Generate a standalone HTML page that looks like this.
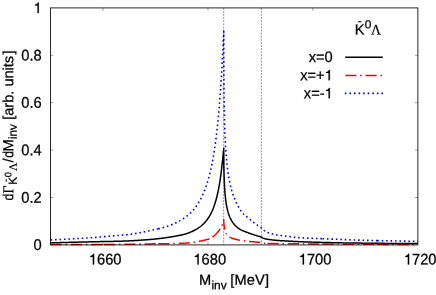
<!DOCTYPE html>
<html><head><meta charset="utf-8"><title>plot</title>
<style>
html,body{margin:0;padding:0;background:#fff;}
body{width:436px;height:295px;overflow:hidden;}
svg{display:block;will-change:transform;}
text{font-family:"Liberation Sans",sans-serif;font-size:14.67px;fill:#000;stroke:#000;stroke-width:0.25px;}
.sym{font-family:"Liberation Serif",serif;}
</style></head><body>
<svg width="436" height="295" viewBox="0 0 436 295">
<rect width="436" height="295" fill="#fff"/>
<g stroke="#747474" stroke-width="0.8" stroke-dasharray="1.9 1.2" fill="none">
<line x1="223.7" y1="7.9" x2="223.7" y2="244.9"/>
<line x1="261.35" y1="7.9" x2="261.35" y2="244.9"/>
</g>
<path d="M50.60,242.90 L51.10,242.88 L51.60,242.87 L52.10,242.85 L52.60,242.84 L53.10,242.82 L53.60,242.81 L54.10,242.79 L54.60,242.78 L55.10,242.76 L55.60,242.75 L56.10,242.74 L56.60,242.72 L57.10,242.71 L57.60,242.69 L58.10,242.68 L58.60,242.66 L59.10,242.65 L59.60,242.63 L60.10,242.62 L60.60,242.61 L61.10,242.59 L61.60,242.58 L62.10,242.56 L62.60,242.55 L63.10,242.53 L63.60,242.52 L64.10,242.51 L64.60,242.49 L65.10,242.48 L65.60,242.47 L66.10,242.45 L66.60,242.44 L67.10,242.42 L67.60,242.41 L68.10,242.40 L68.60,242.38 L69.10,242.37 L69.60,242.36 L70.10,242.34 L70.60,242.33 L71.10,242.32 L71.60,242.30 L72.10,242.29 L72.60,242.28 L73.10,242.26 L73.60,242.25 L74.10,242.24 L74.60,242.23 L75.10,242.21 L75.60,242.20 L76.10,242.19 L76.60,242.17 L77.10,242.16 L77.60,242.15 L78.10,242.14 L78.60,242.12 L79.10,242.11 L79.60,242.10 L80.10,242.09 L80.60,242.07 L81.10,242.06 L81.60,242.05 L82.10,242.04 L82.60,242.02 L83.10,242.01 L83.60,242.00 L84.10,241.99 L84.60,241.98 L85.10,241.96 L85.60,241.95 L86.10,241.94 L86.60,241.93 L87.10,241.92 L87.60,241.90 L88.10,241.89 L88.60,241.88 L89.10,241.87 L89.60,241.86 L90.10,241.85 L90.60,241.83 L91.10,241.82 L91.60,241.81 L92.10,241.80 L92.60,241.79 L93.10,241.78 L93.60,241.76 L94.10,241.75 L94.60,241.74 L95.10,241.73 L95.60,241.72 L96.10,241.71 L96.60,241.70 L97.10,241.69 L97.60,241.67 L98.10,241.66 L98.60,241.65 L99.10,241.64 L99.60,241.63 L100.10,241.62 L100.60,241.61 L101.10,241.60 L101.60,241.59 L102.10,241.58 L102.60,241.57 L103.10,241.56 L103.60,241.55 L104.10,241.54 L104.60,241.53 L105.10,241.52 L105.60,241.51 L106.10,241.50 L106.60,241.50 L107.10,241.49 L107.60,241.48 L108.10,241.47 L108.60,241.46 L109.10,241.45 L109.60,241.45 L110.10,241.44 L110.60,241.43 L111.10,241.42 L111.60,241.41 L112.10,241.40 L112.60,241.39 L113.10,241.38 L113.60,241.37 L114.10,241.36 L114.60,241.35 L115.10,241.34 L115.60,241.33 L116.10,241.32 L116.60,241.31 L117.10,241.30 L117.60,241.29 L118.10,241.27 L118.60,241.26 L119.10,241.25 L119.60,241.23 L120.10,241.22 L120.60,241.20 L121.10,241.19 L121.60,241.17 L122.10,241.15 L122.60,241.14 L123.10,241.12 L123.60,241.10 L124.10,241.08 L124.60,241.06 L125.10,241.04 L125.60,241.02 L126.10,241.00 L126.60,240.98 L127.10,240.95 L127.60,240.93 L128.10,240.91 L128.60,240.88 L129.10,240.86 L129.60,240.84 L130.10,240.81 L130.60,240.79 L131.10,240.76 L131.60,240.73 L132.10,240.71 L132.60,240.68 L133.10,240.65 L133.60,240.62 L134.10,240.59 L134.60,240.57 L135.10,240.54 L135.60,240.51 L136.10,240.48 L136.60,240.45 L137.10,240.42 L137.60,240.38 L138.10,240.35 L138.60,240.32 L139.10,240.29 L139.60,240.25 L140.10,240.22 L140.60,240.19 L141.10,240.15 L141.60,240.12 L142.10,240.09 L142.60,240.05 L143.10,240.02 L143.60,239.98 L144.10,239.94 L144.60,239.91 L145.10,239.87 L145.60,239.84 L146.10,239.80 L146.60,239.76 L147.10,239.72 L147.60,239.69 L148.10,239.65 L148.60,239.61 L149.10,239.57 L149.60,239.53 L150.10,239.49 L150.60,239.45 L151.10,239.41 L151.60,239.37 L152.10,239.32 L152.60,239.28 L153.10,239.23 L153.60,239.18 L154.10,239.13 L154.60,239.08 L155.10,239.03 L155.60,238.98 L156.10,238.92 L156.60,238.87 L157.10,238.81 L157.60,238.75 L158.10,238.70 L158.60,238.64 L159.10,238.58 L159.60,238.52 L160.10,238.46 L160.60,238.39 L161.10,238.33 L161.60,238.27 L162.10,238.20 L162.60,238.14 L163.10,238.07 L163.60,238.00 L164.10,237.94 L164.60,237.87 L165.10,237.80 L165.60,237.73 L166.10,237.67 L166.60,237.60 L167.10,237.53 L167.60,237.46 L168.10,237.39 L168.60,237.31 L169.10,237.24 L169.60,237.16 L170.10,237.09 L170.60,237.01 L171.10,236.93 L171.60,236.84 L172.10,236.76 L172.60,236.67 L173.10,236.59 L173.60,236.50 L174.10,236.41 L174.60,236.31 L175.10,236.22 L175.60,236.12 L176.10,236.03 L176.60,235.93 L177.10,235.84 L177.60,235.74 L178.10,235.65 L178.60,235.55 L179.10,235.45 L179.60,235.35 L180.10,235.25 L180.60,235.15 L181.10,235.04 L181.60,234.94 L182.10,234.83 L182.60,234.72 L183.10,234.60 L183.60,234.48 L184.10,234.36 L184.60,234.22 L185.10,234.09 L185.60,233.94 L186.10,233.80 L186.60,233.64 L187.10,233.48 L187.60,233.31 L188.10,233.13 L188.60,232.95 L189.10,232.75 L189.60,232.55 L190.10,232.34 L190.60,232.12 L191.10,231.90 L191.60,231.68 L192.10,231.45 L192.60,231.22 L193.10,230.98 L193.60,230.74 L194.10,230.49 L194.60,230.23 L195.10,229.97 L195.60,229.69 L196.10,229.41 L196.60,229.12 L197.10,228.81 L197.60,228.50 L198.10,228.18 L198.60,227.84 L199.10,227.49 L199.60,227.14 L200.10,226.76 L200.60,226.38 L201.10,225.98 L201.60,225.56 L202.10,225.13 L202.60,224.68 L203.10,224.21 L203.60,223.73 L204.10,223.22 L204.60,222.69 L205.10,222.14 L205.60,221.57 L206.10,220.97 L206.60,220.35 L207.10,219.69 L207.60,219.01 L208.10,218.29 L208.60,217.54 L209.10,216.75 L209.60,215.92 L210.10,215.04 L210.60,214.13 L211.10,213.16 L211.60,212.14 L212.10,211.06 L212.60,209.91 L213.10,208.71 L213.60,207.42 L214.10,206.06 L214.60,204.62 L215.10,203.08 L215.60,201.43 L216.10,199.68 L216.60,197.81 L217.10,195.80 L217.60,193.64 L218.10,191.32 L218.60,188.83 L219.10,186.14 L219.60,183.23 L220.10,180.09 L220.55,177.04 L220.75,175.62 L220.85,174.88 L220.95,174.14 L221.05,173.41 L221.14,172.67 L221.24,171.94 L221.33,171.21 L221.42,170.49 L221.51,169.77 L221.60,169.05 L221.68,168.34 L221.76,167.63 L221.85,166.92 L221.93,166.23 L222.00,165.54 L222.08,164.85 L222.16,164.18 L222.23,163.51 L222.30,162.85 L222.37,162.20 L222.44,161.56 L222.51,160.93 L222.57,160.31 L222.63,159.70 L222.69,159.10 L222.75,158.52 L222.81,157.94 L222.87,157.38 L222.92,156.84 L222.97,156.31 L223.03,155.79 L223.07,155.28 L223.12,154.80 L223.17,154.32 L223.21,153.87 L223.25,153.43 L223.29,153.00 L223.33,152.59 L223.37,152.20 L223.41,151.83 L223.44,151.48 L223.47,151.14 L223.50,150.82 L223.53,150.52 L223.56,150.23 L223.58,149.97 L223.60,149.72 L223.63,149.49 L223.65,149.29 L223.66,149.09 L223.68,148.92 L223.69,148.77 L223.71,148.63 L223.72,148.52 L223.73,148.42 L223.74,148.34 L223.74,148.28 L223.75,148.23 L223.75,148.21 L223.75,148.20 L223.75,149.85 L223.75,151.46 L223.76,153.05 L223.76,154.61 L223.77,156.15 L223.78,157.65 L223.79,159.12 L223.81,160.57 L223.82,161.99 L223.84,163.39 L223.85,164.75 L223.87,166.09 L223.90,167.41 L223.92,168.70 L223.94,169.96 L223.97,171.20 L224.00,172.41 L224.03,173.60 L224.06,174.77 L224.09,175.91 L224.13,177.03 L224.17,178.13 L224.21,179.21 L224.25,180.26 L224.29,181.29 L224.33,182.31 L224.38,183.30 L224.43,184.27 L224.47,185.23 L224.53,186.16 L224.58,187.08 L224.63,187.97 L224.69,188.85 L224.75,189.71 L224.81,190.56 L224.87,191.39 L224.93,192.20 L224.99,193.00 L225.06,193.78 L225.13,194.54 L225.20,195.29 L225.27,196.02 L225.34,196.75 L225.42,197.45 L225.50,198.15 L225.57,198.82 L225.65,199.49 L225.74,200.14 L225.82,200.79 L225.90,201.41 L225.99,202.03 L226.08,202.64 L226.17,203.23 L226.26,203.81 L226.36,204.38 L226.45,204.95 L226.55,205.50 L226.65,206.04 L226.75,206.57 L226.95,207.56 L227.35,209.37 L227.75,210.98 L228.15,212.41 L228.55,213.71 L228.95,214.88 L229.35,215.96 L229.75,216.94 L230.15,217.85 L230.55,218.70 L230.95,219.48 L231.35,220.21 L231.75,220.90 L232.15,221.54 L232.55,222.15 L232.95,222.72 L233.35,223.26 L233.75,223.77 L234.15,224.25 L234.55,224.71 L234.95,225.15 L235.35,225.57 L235.75,225.97 L236.15,226.35 L236.55,226.72 L236.95,227.08 L237.35,227.42 L237.75,227.75 L238.15,228.06 L238.55,228.37 L238.95,228.65 L239.35,228.92 L239.75,229.18 L240.15,229.42 L240.55,229.65 L240.95,229.87 L241.35,230.07 L241.75,230.26 L242.15,230.43 L242.55,230.60 L242.95,230.77 L243.35,230.93 L243.75,231.08 L244.15,231.24 L244.55,231.40 L244.95,231.56 L245.35,231.71 L245.75,231.87 L246.15,232.03 L246.55,232.18 L246.95,232.34 L247.35,232.49 L247.75,232.65 L248.15,232.80 L248.55,232.96 L248.95,233.11 L249.35,233.25 L249.75,233.40 L250.15,233.54 L250.55,233.68 L250.95,233.82 L251.35,233.96 L251.75,234.10 L252.15,234.23 L252.55,234.37 L252.95,234.50 L253.35,234.63 L253.75,234.76 L254.15,234.89 L254.55,235.01 L254.95,235.14 L255.35,235.27 L255.75,235.39 L256.15,235.51 L256.55,235.63 L256.95,235.76 L257.35,235.88 L257.75,236.00 L258.15,236.12 L258.55,236.24 L258.95,236.36 L259.35,236.47 L259.75,236.59 L260.15,236.71 L260.55,236.82 L260.95,236.94 L261.35,237.05 L261.35,237.05 L261.85,237.37 L262.35,237.68 L262.85,237.96 L263.35,238.21 L263.85,238.42 L264.35,238.57 L264.85,238.71 L265.35,238.84 L265.85,238.95 L266.35,239.05 L266.85,239.15 L267.35,239.23 L267.85,239.32 L268.35,239.40 L268.85,239.48 L269.35,239.55 L269.85,239.63 L270.35,239.70 L270.85,239.76 L271.35,239.82 L271.85,239.88 L272.35,239.94 L272.85,240.00 L273.35,240.05 L273.85,240.11 L274.35,240.16 L274.85,240.21 L275.35,240.26 L275.85,240.30 L276.35,240.35 L276.85,240.39 L277.35,240.43 L277.85,240.47 L278.35,240.50 L278.85,240.54 L279.35,240.57 L279.85,240.60 L280.35,240.64 L280.85,240.67 L281.35,240.70 L281.85,240.73 L282.35,240.76 L282.85,240.79 L283.35,240.82 L283.85,240.84 L284.35,240.87 L284.85,240.90 L285.35,240.93 L285.85,240.96 L286.35,240.99 L286.85,241.01 L287.35,241.04 L287.85,241.07 L288.35,241.10 L288.85,241.13 L289.35,241.16 L289.85,241.18 L290.35,241.21 L290.85,241.24 L291.35,241.27 L291.85,241.30 L292.35,241.32 L292.85,241.35 L293.35,241.38 L293.85,241.40 L294.35,241.43 L294.85,241.46 L295.35,241.48 L295.85,241.51 L296.35,241.53 L296.85,241.56 L297.35,241.58 L297.85,241.60 L298.35,241.63 L298.85,241.65 L299.35,241.67 L299.85,241.69 L300.35,241.71 L300.85,241.74 L301.35,241.76 L301.85,241.78 L302.35,241.80 L302.85,241.82 L303.35,241.84 L303.85,241.86 L304.35,241.88 L304.85,241.90 L305.35,241.92 L305.85,241.93 L306.35,241.95 L306.85,241.97 L307.35,241.99 L307.85,242.01 L308.35,242.02 L308.85,242.04 L309.35,242.06 L309.85,242.07 L310.35,242.09 L310.85,242.11 L311.35,242.12 L311.85,242.14 L312.35,242.15 L312.85,242.17 L313.35,242.18 L313.85,242.20 L314.35,242.21 L314.85,242.22 L315.35,242.24 L315.85,242.25 L316.35,242.26 L316.85,242.28 L317.35,242.29 L317.85,242.30 L318.35,242.32 L318.85,242.33 L319.35,242.34 L319.85,242.36 L320.35,242.37 L320.85,242.38 L321.35,242.40 L321.85,242.41 L322.35,242.42 L322.85,242.43 L323.35,242.45 L323.85,242.46 L324.35,242.47 L324.85,242.48 L325.35,242.50 L325.85,242.51 L326.35,242.52 L326.85,242.53 L327.35,242.54 L327.85,242.56 L328.35,242.57 L328.85,242.58 L329.35,242.59 L329.85,242.60 L330.35,242.61 L330.85,242.62 L331.35,242.64 L331.85,242.65 L332.35,242.66 L332.85,242.67 L333.35,242.68 L333.85,242.69 L334.35,242.70 L334.85,242.71 L335.35,242.72 L335.85,242.73 L336.35,242.74 L336.85,242.75 L337.35,242.76 L337.85,242.77 L338.35,242.78 L338.85,242.79 L339.35,242.80 L339.85,242.81 L340.35,242.82 L340.85,242.83 L341.35,242.84 L341.85,242.85 L342.35,242.86 L342.85,242.87 L343.35,242.88 L343.85,242.89 L344.35,242.89 L344.85,242.90 L345.35,242.91 L345.85,242.92 L346.35,242.93 L346.85,242.94 L347.35,242.94 L347.85,242.95 L348.35,242.96 L348.85,242.97 L349.35,242.97 L349.85,242.98 L350.35,242.99 L350.85,243.00 L351.35,243.00 L351.85,243.01 L352.35,243.02 L352.85,243.02 L353.35,243.03 L353.85,243.04 L354.35,243.04 L354.85,243.05 L355.35,243.05 L355.85,243.06 L356.35,243.07 L356.85,243.07 L357.35,243.08 L357.85,243.08 L358.35,243.09 L358.85,243.10 L359.35,243.10 L359.85,243.11 L360.35,243.11 L360.85,243.12 L361.35,243.13 L361.85,243.13 L362.35,243.14 L362.85,243.14 L363.35,243.15 L363.85,243.15 L364.35,243.16 L364.85,243.17 L365.35,243.17 L365.85,243.18 L366.35,243.18 L366.85,243.19 L367.35,243.19 L367.85,243.20 L368.35,243.21 L368.85,243.21 L369.35,243.22 L369.85,243.22 L370.35,243.23 L370.85,243.23 L371.35,243.24 L371.85,243.24 L372.35,243.25 L372.85,243.26 L373.35,243.26 L373.85,243.27 L374.35,243.27 L374.85,243.28 L375.35,243.28 L375.85,243.29 L376.35,243.29 L376.85,243.30 L377.35,243.30 L377.85,243.31 L378.35,243.31 L378.85,243.32 L379.35,243.32 L379.85,243.33 L380.35,243.33 L380.85,243.34 L381.35,243.34 L381.85,243.35 L382.35,243.35 L382.85,243.36 L383.35,243.36 L383.85,243.37 L384.35,243.37 L384.85,243.38 L385.35,243.38 L385.85,243.39 L386.35,243.39 L386.85,243.40 L387.35,243.40 L387.85,243.40 L388.35,243.41 L388.85,243.41 L389.35,243.42 L389.85,243.42 L390.35,243.42 L390.85,243.43 L391.35,243.43 L391.85,243.44 L392.35,243.44 L392.85,243.44 L393.35,243.45 L393.85,243.45 L394.35,243.46 L394.85,243.46 L395.35,243.46 L395.85,243.47 L396.35,243.47 L396.85,243.47 L397.35,243.48 L397.85,243.48 L398.35,243.48 L398.85,243.49 L399.35,243.49 L399.85,243.49 L400.35,243.49 L400.85,243.50 L401.35,243.50 L401.85,243.50 L402.35,243.51 L402.85,243.51 L403.35,243.51 L403.85,243.51 L404.35,243.52 L404.85,243.52 L405.35,243.52 L405.85,243.52 L406.35,243.52 L406.85,243.53 L407.35,243.53 L407.85,243.53 L408.35,243.53 L408.85,243.53 L409.35,243.54 L409.85,243.54 L410.35,243.54 L410.85,243.54 L411.35,243.54 L411.85,243.54 L412.35,243.54 L412.85,243.54 L413.35,243.55 L413.85,243.55 L414.35,243.55 L414.85,243.55 L415.35,243.55 L415.85,243.55 L416.35,243.55 L416.85,243.55 L417.35,243.55 L417.85,243.55" fill="none" stroke="#000" stroke-width="1.5" stroke-linejoin="round"/>
<path d="M50.60,244.60 L51.10,244.60 L51.60,244.60 L52.10,244.60 L52.61,244.60 L53.11,244.60 L53.61,244.60 L54.11,244.60 L54.61,244.60 L55.11,244.60 L55.62,244.60 L56.12,244.60 L56.62,244.60 L57.12,244.60 L57.62,244.60 L58.12,244.60 L58.63,244.60 L59.13,244.60 L59.63,244.59 L60.13,244.59 L60.63,244.59 L61.13,244.59 L61.64,244.59 L62.14,244.59 L62.64,244.59 L63.14,244.59 L63.64,244.59 L64.14,244.59 L64.65,244.59 L65.15,244.59 L65.65,244.59 L66.15,244.58 L66.65,244.58 L67.15,244.58 L67.65,244.58 L68.16,244.58 L68.66,244.58 L69.16,244.58 L69.66,244.58 L70.16,244.58 L70.66,244.57 L71.17,244.57 L71.67,244.57 L72.17,244.57 L72.67,244.57 L73.17,244.57 L73.67,244.57 L74.18,244.56 L74.68,244.56 L75.18,244.56 L75.68,244.56 L76.18,244.56 L76.68,244.56 L77.19,244.56 L77.69,244.55 L78.19,244.55 L78.69,244.55 L79.19,244.55 L79.69,244.55 L80.19,244.55 L80.70,244.54 L81.20,244.54 L81.70,244.54 L82.20,244.54 L82.70,244.54 L83.20,244.54 L83.71,244.53 L84.21,244.53 L84.71,244.53 L85.21,244.53 L85.71,244.53 L86.21,244.52 L86.72,244.52 L87.22,244.52 L87.72,244.52 L88.22,244.52 L88.72,244.51 L89.22,244.51 L89.72,244.51 L90.23,244.51 L90.73,244.50 L91.23,244.50 L91.73,244.50 L92.23,244.50 L92.73,244.50 L93.24,244.49 L93.74,244.49 L94.24,244.49 L94.74,244.49 L95.24,244.48 L95.74,244.48 L96.25,244.48 L96.75,244.48 L97.25,244.47 L97.75,244.47 L98.25,244.47 L98.75,244.47 L99.25,244.46 L99.76,244.46 L100.26,244.46 L100.76,244.46 L101.26,244.45 L101.76,244.45 L102.26,244.45 L102.77,244.45 L103.27,244.44 L103.77,244.44 L104.00,244.44 M104.00,244.44 L104.27,244.44 L104.77,244.43 L105.27,244.43 L105.78,244.43 L106.28,244.43 L106.78,244.42 L107.28,244.42 L107.78,244.42 L108.28,244.41 L108.78,244.41 L109.29,244.41 L109.79,244.41 L110.29,244.40 L110.79,244.40 L111.29,244.40 L111.79,244.39 L112.30,244.39 L112.80,244.39 L113.30,244.39 L113.80,244.38 L114.30,244.38 L114.80,244.38 L115.31,244.37 L115.81,244.37 L116.31,244.37 L116.81,244.36 L117.31,244.36 L117.81,244.36 L118.31,244.35 L118.82,244.35 L119.32,244.35 L119.82,244.34 L120.32,244.34 L120.82,244.34 L121.32,244.33 L121.83,244.33 L122.33,244.32 L122.83,244.32 L123.33,244.31 L123.83,244.31 L124.33,244.30 L124.83,244.30 L125.34,244.29 L125.84,244.29 L126.34,244.28 L126.84,244.27 L127.34,244.27 L127.84,244.26 L128.35,244.25 L128.85,244.25 L129.35,244.24 L129.85,244.23 L130.35,244.22 L130.85,244.22 L131.35,244.21 L131.86,244.20 L132.36,244.19 L132.86,244.19 L133.36,244.18 L133.86,244.17 L134.36,244.16 L134.87,244.15 L135.37,244.15 L135.87,244.14 L136.37,244.13 L136.87,244.12 L137.37,244.11 L137.87,244.10 L138.38,244.09 L138.88,244.09 L139.38,244.08 L139.88,244.07 L140.38,244.06 L140.88,244.05 L141.39,244.04 L141.89,244.03 L142.39,244.03 L142.89,244.02 L143.39,244.01 L143.89,244.00 L144.39,243.99 L144.90,243.98 L145.40,243.97 L145.90,243.97 L146.40,243.96 L146.90,243.95 L147.40,243.94 L147.91,243.93 L148.41,243.92 L148.91,243.92 L149.41,243.91 L149.91,243.90 L150.41,243.89 L150.91,243.89 L151.42,243.88 L151.92,243.87 L152.42,243.86 L152.92,243.86 L153.42,243.85 L153.92,243.84 L154.43,243.84 L154.93,243.83 L155.43,243.82 L155.93,243.82 L156.43,243.81 L156.93,243.80 L157.44,243.80 L157.94,243.79 L158.30,243.78 M158.30,243.78 L158.44,243.78 L158.94,243.77 L159.44,243.77 L159.94,243.76 L160.44,243.75 L160.95,243.75 L161.45,243.74 L161.95,243.73 L162.45,243.73 L162.95,243.72 L163.45,243.71 L163.96,243.70 L164.46,243.70 L164.96,243.69 L165.46,243.68 L165.96,243.67 L166.46,243.67 L166.96,243.66 L167.47,243.65 L167.97,243.64 L168.47,243.63 L168.97,243.62 L169.47,243.61 L169.97,243.60 L170.48,243.60 L170.98,243.59 L171.48,243.58 L171.98,243.57 L172.48,243.56 L172.98,243.55 L173.48,243.53 L173.99,243.52 L174.49,243.51 L174.99,243.50 L175.49,243.49 L175.99,243.48 L176.49,243.46 L176.99,243.45 L177.50,243.44 L178.00,243.42 L178.50,243.41 L179.00,243.39 L179.50,243.38 L180.01,243.36 L180.51,243.34 L181.01,243.33 L181.51,243.31 L182.01,243.29 L182.51,243.27 L183.01,243.25 L183.52,243.23 L184.02,243.20 L184.52,243.18 L185.02,243.15 L185.52,243.13 L186.02,243.10 L186.51,243.07 L187.01,243.03 L187.51,243.00 L188.01,242.96 L188.51,242.91 L189.01,242.86 L189.51,242.81 L190.01,242.76 L190.51,242.70 L191.01,242.64 L191.51,242.58 L192.00,242.51 L192.50,242.44 L193.00,242.37 L193.50,242.30 L194.00,242.22 L194.49,242.15 L194.99,242.07 L195.49,241.99 L195.98,241.90 L196.48,241.82 L196.97,241.74 L197.47,241.65 L197.96,241.56 L198.46,241.47 L198.95,241.39 L199.44,241.30 L199.93,241.20 L200.43,241.11 L200.92,241.02 L201.41,240.91 L201.89,240.80 L202.38,240.68 L202.87,240.56 L203.36,240.43 L203.84,240.30 L204.33,240.17 L204.81,240.05 L205.30,239.93 L205.79,239.81 L206.28,239.69 L206.78,239.58 L207.27,239.46 L207.76,239.34 L208.24,239.21 L208.72,239.07 L209.19,238.91 L209.65,238.74 L210.11,238.55 L210.56,238.32 L211.01,238.08 L211.45,237.82 L211.88,237.55 L212.30,237.26 L212.50,237.12 M212.50,237.12 L212.70,236.98 L213.08,236.68 L213.47,236.38 L213.85,236.07 L214.22,235.74 L214.60,235.41 L214.97,235.07 L215.34,234.72 L215.70,234.36 L216.06,234.00 L216.41,233.63 L216.76,233.25 L217.10,232.87 L217.44,232.48 L217.77,232.08 L218.10,231.69 L218.41,231.28 L218.72,230.88 L219.03,230.47 L219.32,230.06 L219.61,229.64 L219.89,229.23 L220.16,228.81 L220.42,228.39 L220.67,227.98 L220.92,227.55 L221.16,227.11 L221.38,226.66 L221.61,226.21 L221.82,225.74 L222.02,225.28 L222.21,224.81 L222.38,224.34 L222.55,223.87 L222.70,223.39 L222.85,222.92 L223.00,222.44 L223.14,221.96 L223.27,221.47 L223.39,220.98 L223.50,220.49 L223.61,220.00 L223.70,219.50 L223.70,220.02 L223.71,220.53 L223.73,221.05 L223.75,221.56 L223.78,222.07 L223.81,222.57 L223.85,223.08 L223.89,223.58 L223.94,224.08 L223.99,224.58 L224.05,225.08 L224.11,225.58 L224.17,226.07 L224.24,226.56 L224.31,227.06 L224.38,227.54 L224.46,228.03 L224.54,228.52 L224.62,229.00 L224.70,229.49 L224.79,229.98 L224.91,230.47 L225.05,230.97 L225.20,231.46 L225.38,231.95 L225.57,232.43 L225.77,232.90 L225.99,233.35 L226.21,233.78 L226.45,234.18 L226.72,234.58 L227.03,234.97 L227.38,235.36 L227.75,235.74 L228.14,236.09 L228.55,236.42 L228.97,236.72 L229.38,236.98 L229.79,237.20 L230.21,237.41 L230.64,237.60 L231.08,237.80 L231.53,237.98 L231.99,238.16 L232.46,238.33 L232.93,238.49 L233.41,238.65 L233.90,238.80 L234.39,238.95 L234.89,239.09 L235.39,239.22 L235.89,239.35 L236.40,239.48 L236.90,239.60 L237.41,239.71 L237.91,239.82 L238.42,239.92 L238.92,240.02 L239.42,240.12 L239.92,240.21 L240.41,240.30 L240.90,240.39 L241.40,240.46 L241.89,240.53 L242.39,240.60 L242.89,240.67 L243.39,240.73 L243.89,240.79 L244.39,240.85 L244.89,240.91 L245.38,240.97 L245.88,241.03 L246.38,241.09 L246.88,241.15 L247.38,241.21 L247.88,241.27 L248.37,241.33 L248.87,241.38 L249.37,241.43 L249.87,241.49 L250.37,241.54 L250.87,241.59 L251.37,241.63 L251.87,241.67 L252.37,241.71 L252.87,241.75 L253.38,241.79 L253.88,241.83 L254.38,241.87 L254.88,241.91 L255.38,241.94 L255.88,241.98 L256.39,242.02 L256.89,242.06 L257.39,242.10 L257.89,242.15 L258.39,242.20 L258.88,242.25 L259.38,242.30 L259.88,242.36 L260.37,242.42 L260.87,242.48 L261.36,242.56 L261.85,242.67 L262.34,242.81 L262.83,242.95 L263.32,243.09 L263.80,243.22 L264.29,243.32 L264.79,243.39 L265.28,243.41 L265.78,243.43 L266.27,243.44 L266.77,243.46 L267.27,243.47 L267.50,243.48 M267.50,243.48 L267.77,243.49 L268.27,243.50 L268.77,243.51 L269.27,243.52 L269.77,243.53 L270.27,243.54 L270.77,243.55 L271.27,243.56 L271.78,243.57 L272.28,243.57 L272.78,243.58 L273.29,243.58 L273.79,243.59 L274.30,243.60 L274.80,243.60 L275.31,243.61 L275.81,243.61 L276.31,243.62 L276.82,243.62 L277.32,243.62 L277.82,243.63 L278.33,243.63 L278.83,243.64 L279.33,243.64 L279.84,243.65 L280.34,243.65 L280.84,243.66 L281.34,243.66 L281.84,243.67 L282.35,243.67 L282.85,243.68 L283.35,243.68 L283.85,243.69 L284.35,243.69 L284.85,243.69 L285.36,243.70 L285.86,243.70 L286.36,243.71 L286.86,243.71 L287.36,243.71 L287.87,243.72 L288.37,243.72 L288.87,243.72 L289.37,243.73 L289.87,243.73 L290.38,243.73 L290.88,243.74 L291.38,243.74 L291.88,243.74 L292.38,243.75 L292.88,243.75 L293.39,243.75 L293.89,243.76 L294.39,243.76 L294.89,243.76 L295.39,243.77 L295.90,243.77 L296.40,243.77 L296.90,243.78 L297.40,243.78 L297.90,243.78 L298.41,243.79 L298.91,243.79 L299.41,243.80 L299.91,243.80 L300.41,243.80 L300.91,243.81 L301.42,243.81 L301.92,243.81 L302.42,243.82 L302.92,243.82 L303.42,243.83 L303.93,243.83 L304.43,243.84 L304.93,243.84 L305.43,243.84 L305.93,243.85 L306.43,243.85 L306.94,243.86 L307.44,243.86 L307.94,243.86 L308.44,243.87 L308.94,243.87 L309.45,243.88 L309.95,243.88 L310.45,243.89 L310.95,243.89 L311.45,243.89 L311.96,243.90 L312.46,243.90 L312.96,243.91 L313.46,243.91 L313.96,243.92 L314.46,243.92 L314.97,243.92 L315.47,243.93 L315.97,243.93 L316.47,243.94 L316.97,243.94 L317.48,243.95 L317.98,243.95 L318.48,243.96 L318.98,243.96 L319.48,243.96 L319.99,243.97 L320.49,243.97 L320.99,243.98 L321.49,243.98 L321.99,243.99 L322.49,243.99 L322.50,243.99 M322.50,243.99 L323.00,243.99 L323.50,244.00 L324.00,244.00 L324.50,244.01 L325.00,244.01 L325.51,244.02 L326.01,244.02 L326.51,244.03 L327.01,244.03 L327.51,244.03 L328.01,244.04 L328.52,244.04 L329.02,244.05 L329.52,244.05 L330.02,244.05 L330.52,244.06 L331.03,244.06 L331.53,244.07 L332.03,244.07 L332.53,244.08 L333.03,244.08 L333.54,244.08 L334.04,244.09 L334.54,244.09 L335.04,244.10 L335.54,244.10 L336.04,244.10 L336.55,244.11 L337.05,244.11 L337.55,244.12 L338.05,244.12 L338.55,244.12 L339.06,244.13 L339.56,244.13 L340.06,244.13 L340.56,244.14 L341.06,244.14 L341.57,244.15 L342.07,244.15 L342.57,244.15 L343.07,244.16 L343.57,244.16 L344.07,244.16 L344.58,244.17 L345.08,244.17 L345.58,244.17 L346.08,244.18 L346.58,244.18 L347.09,244.18 L347.59,244.19 L348.09,244.19 L348.59,244.19 L349.09,244.19 L349.60,244.20 L350.10,244.20 L350.60,244.20 L351.10,244.21 L351.60,244.21 L352.10,244.21 L352.61,244.21 L353.11,244.22 L353.61,244.22 L354.11,244.22 L354.61,244.23 L355.12,244.23 L355.62,244.23 L356.12,244.23 L356.62,244.24 L357.12,244.24 L357.62,244.24 L358.13,244.25 L358.63,244.25 L359.13,244.25 L359.63,244.25 L360.13,244.26 L360.64,244.26 L361.14,244.26 L361.64,244.27 L362.14,244.27 L362.64,244.27 L363.15,244.27 L363.65,244.28 L364.15,244.28 L364.65,244.28 L365.15,244.28 L365.65,244.29 L366.16,244.29 L366.66,244.29 L367.16,244.30 L367.66,244.30 L368.16,244.30 L368.67,244.30 L369.17,244.31 L369.67,244.31 L370.17,244.31 L370.67,244.31 L371.18,244.32 L371.68,244.32 L372.18,244.32 L372.68,244.32 L373.18,244.33 L373.68,244.33 L374.19,244.33 L374.69,244.33 L375.19,244.34 L375.69,244.34 L376.19,244.34 L376.70,244.34 L377.20,244.35 L377.20,244.35 M377.20,244.35 L377.70,244.35 L378.20,244.35 L378.70,244.35 L379.21,244.36 L379.71,244.36 L380.21,244.36 L380.71,244.36 L381.21,244.37 L381.71,244.37 L382.22,244.37 L382.72,244.37 L383.22,244.38 L383.72,244.38 L384.22,244.38 L384.73,244.38 L385.23,244.38 L385.73,244.39 L386.23,244.39 L386.73,244.39 L387.24,244.39 L387.74,244.40 L388.24,244.40 L388.74,244.40 L389.24,244.40 L389.74,244.40 L390.25,244.41 L390.75,244.41 L391.25,244.41 L391.75,244.41 L392.25,244.42 L392.76,244.42 L393.26,244.42 L393.76,244.42 L394.26,244.42 L394.76,244.43 L395.27,244.43 L395.77,244.43 L396.27,244.43 L396.77,244.43 L397.27,244.44 L397.77,244.44 L398.28,244.44 L398.78,244.44 L399.28,244.44 L399.78,244.44 L400.28,244.45 L400.79,244.45 L401.29,244.45 L401.79,244.45 L402.29,244.45 L402.79,244.46 L403.30,244.46 L403.80,244.46 L404.30,244.46 L404.80,244.46 L405.30,244.46 L405.80,244.47 L406.31,244.47 L406.81,244.47 L407.31,244.47 L407.81,244.47 L408.31,244.47 L408.82,244.48 L409.32,244.48 L409.82,244.48 L410.32,244.48 L410.82,244.48 L411.33,244.48 L411.83,244.48 L412.33,244.49 L412.83,244.49 L413.33,244.49 L413.83,244.49 L414.34,244.49 L414.84,244.49 L415.34,244.49 L415.84,244.50 L416.34,244.50 L416.85,244.50 L417.35,244.50 L417.85,244.50" fill="none" stroke="#f00" stroke-width="1.5" stroke-dasharray="11.2 3.7 1.6 3.8" stroke-linejoin="round"/>
<path d="M50.60,239.90 L51.10,239.88 L51.60,239.86 L52.10,239.84 L52.60,239.81 L53.10,239.79 L53.60,239.77 L54.10,239.75 L54.60,239.73 L55.10,239.70 L55.60,239.68 L56.10,239.66 L56.60,239.63 L57.10,239.61 L57.60,239.59 L58.10,239.56 L58.60,239.54 L59.10,239.52 L59.60,239.49 L60.10,239.47 L60.60,239.45 L61.10,239.42 L61.60,239.40 L62.10,239.37 L62.60,239.35 L63.10,239.32 L63.60,239.30 L64.10,239.27 L64.60,239.25 L65.10,239.22 L65.60,239.20 L66.10,239.17 L66.60,239.15 L67.10,239.12 L67.60,239.09 L68.10,239.07 L68.60,239.04 L69.10,239.02 L69.60,238.99 L70.10,238.96 L70.60,238.94 L71.10,238.91 L71.60,238.88 L72.10,238.86 L72.60,238.83 L73.10,238.80 L73.60,238.78 L74.10,238.75 L74.60,238.72 L75.10,238.69 L75.60,238.67 L76.10,238.64 L76.60,238.61 L77.10,238.58 L77.60,238.56 L78.10,238.53 L78.60,238.50 L79.10,238.47 L79.60,238.45 L80.10,238.42 L80.60,238.39 L81.10,238.36 L81.60,238.33 L82.10,238.30 L82.60,238.27 L83.10,238.24 L83.60,238.21 L84.10,238.18 L84.60,238.15 L85.10,238.12 L85.60,238.09 L86.10,238.06 L86.60,238.03 L87.10,238.00 L87.60,237.97 L88.10,237.93 L88.60,237.90 L89.10,237.87 L89.60,237.83 L90.10,237.80 L90.60,237.76 L91.10,237.73 L91.60,237.69 L92.10,237.66 L92.60,237.62 L93.10,237.58 L93.60,237.54 L94.10,237.50 L94.60,237.46 L95.10,237.41 L95.60,237.37 L96.10,237.33 L96.60,237.28 L97.10,237.24 L97.60,237.19 L98.10,237.15 L98.60,237.11 L99.10,237.06 L99.60,237.02 L100.10,236.98 L100.60,236.93 L101.10,236.89 L101.60,236.85 L102.10,236.81 L102.60,236.77 L103.10,236.73 L103.60,236.69 L104.00,236.65 M104.00,236.65 L104.10,236.65 L104.60,236.61 L105.10,236.57 L105.60,236.53 L106.10,236.49 L106.60,236.45 L107.10,236.41 L107.60,236.37 L108.10,236.33 L108.60,236.29 L109.10,236.25 L109.60,236.21 L110.10,236.17 L110.60,236.13 L111.10,236.09 L111.60,236.05 L112.10,236.01 L112.60,235.97 L113.10,235.93 L113.60,235.88 L114.10,235.84 L114.60,235.80 L115.10,235.76 L115.60,235.72 L116.10,235.67 L116.60,235.63 L117.10,235.59 L117.60,235.54 L118.10,235.50 L118.60,235.46 L119.10,235.41 L119.60,235.37 L120.10,235.32 L120.60,235.28 L121.10,235.24 L121.60,235.19 L122.10,235.15 L122.60,235.10 L123.10,235.05 L123.60,235.01 L124.10,234.96 L124.60,234.91 L125.10,234.86 L125.60,234.81 L126.10,234.76 L126.60,234.70 L127.10,234.65 L127.60,234.59 L128.10,234.53 L128.60,234.47 L129.10,234.40 L129.60,234.34 L130.10,234.27 L130.60,234.21 L131.10,234.14 L131.60,234.07 L132.10,233.99 L132.60,233.92 L133.10,233.85 L133.60,233.77 L134.10,233.69 L134.60,233.61 L135.10,233.53 L135.60,233.45 L136.10,233.37 L136.60,233.29 L137.10,233.20 L137.60,233.12 L138.10,233.03 L138.60,232.95 L139.10,232.86 L139.60,232.77 L140.10,232.68 L140.60,232.59 L141.10,232.50 L141.60,232.40 L142.10,232.30 L142.60,232.21 L143.10,232.10 L143.60,232.00 L144.10,231.89 L144.60,231.79 L145.10,231.68 L145.60,231.57 L146.10,231.46 L146.60,231.35 L147.10,231.24 L147.60,231.13 L148.10,231.02 L148.60,230.91 L149.10,230.80 L149.60,230.69 L150.10,230.58 L150.60,230.47 L151.10,230.36 L151.60,230.25 L152.10,230.15 L152.60,230.04 L153.10,229.93 L153.60,229.83 L154.10,229.72 L154.60,229.61 L155.10,229.51 L155.60,229.40 L156.10,229.29 L156.60,229.18 L157.10,229.07 L157.60,228.95 L158.10,228.84 L158.30,228.79 M158.30,228.79 L158.60,228.72 L159.10,228.60 L159.60,228.48 L160.10,228.36 L160.60,228.23 L161.10,228.10 L161.60,227.97 L162.10,227.84 L162.60,227.70 L163.10,227.56 L163.60,227.42 L164.10,227.27 L164.60,227.12 L165.10,226.97 L165.60,226.82 L166.10,226.66 L166.60,226.50 L167.10,226.34 L167.60,226.17 L168.10,226.00 L168.60,225.83 L169.10,225.66 L169.60,225.48 L170.10,225.29 L170.60,225.11 L171.10,224.92 L171.60,224.72 L172.10,224.52 L172.60,224.32 L173.10,224.12 L173.60,223.90 L174.10,223.69 L174.60,223.47 L175.10,223.25 L175.60,223.02 L176.10,222.78 L176.60,222.53 L177.10,222.28 L177.60,222.02 L178.10,221.75 L178.60,221.47 L179.10,221.19 L179.60,220.90 L180.10,220.61 L180.60,220.31 L181.10,220.00 L181.60,219.70 L182.10,219.39 L182.60,219.07 L183.10,218.75 L183.60,218.43 L184.10,218.10 L184.60,217.77 L185.10,217.43 L185.60,217.08 L186.10,216.72 L186.60,216.36 L187.10,215.98 L187.60,215.60 L188.10,215.20 L188.60,214.78 L189.10,214.35 L189.60,213.90 L190.10,213.43 L190.60,212.94 L191.10,212.44 L191.60,211.92 L192.10,211.38 L192.60,210.83 L193.10,210.26 L193.60,209.67 L194.10,209.06 L194.60,208.43 L195.10,207.78 L195.60,207.12 L196.10,206.43 L196.60,205.72 L197.10,204.99 L197.60,204.24 L198.10,203.46 L198.60,202.66 L199.10,201.82 L199.60,200.96 L200.10,200.07 L200.60,199.15 L201.10,198.19 L201.60,197.20 L202.10,196.17 L202.60,195.11 L203.10,194.00 L203.60,192.85 L204.10,191.65 L204.60,190.40 L205.10,189.11 L205.60,187.76 L206.10,186.35 L206.60,184.88 L207.10,183.35 L207.60,181.75 L208.10,180.08 L208.60,178.33 L209.10,176.50 L209.60,174.57 L210.10,172.56 L210.60,170.44 L211.10,168.22 L211.60,165.88 L212.10,163.42 L212.50,161.34 M212.50,161.34 L212.60,160.82 L213.10,158.08 L213.60,155.18 L214.10,152.12 L214.60,148.87 L215.10,145.44 L215.60,141.79 L216.10,137.91 L216.60,133.78 L217.10,129.38 L217.60,124.68 L218.10,119.67 L218.60,114.31 L219.10,108.56 L219.60,102.40 L220.10,95.79 L220.55,89.43 L220.75,86.46 L220.85,84.94 L220.95,83.42 L221.05,81.90 L221.14,80.39 L221.24,78.89 L221.33,77.39 L221.42,75.90 L221.51,74.43 L221.60,72.96 L221.68,71.51 L221.76,70.07 L221.85,68.64 L221.93,67.23 L222.00,65.83 L222.08,64.45 L222.16,63.08 L222.23,61.74 L222.30,60.41 L222.37,59.11 L222.44,57.82 L222.51,56.56 L222.57,55.32 L222.63,54.10 L222.69,52.91 L222.75,51.74 L222.81,50.60 L222.87,49.49 L222.92,48.41 L222.97,47.35 L223.03,46.32 L223.07,45.33 L223.12,44.36 L223.17,43.43 L223.21,42.53 L223.25,41.66 L223.29,40.82 L223.33,40.02 L223.37,39.25 L223.41,38.52 L223.44,37.82 L223.47,37.16 L223.50,36.53 L223.53,35.94 L223.56,35.38 L223.58,34.86 L223.60,34.38 L223.63,33.93 L223.65,33.52 L223.66,33.15 L223.68,32.81 L223.69,32.51 L223.71,32.25 L223.72,32.02 L223.73,31.83 L223.74,31.68 L223.74,31.55 L223.75,31.47 L223.75,31.42 L223.75,31.40 L223.75,35.97 L223.75,40.38 L223.76,44.64 L223.76,48.75 L223.77,52.72 L223.78,56.56 L223.79,60.27 L223.81,63.86 L223.82,67.33 L223.84,70.69 L223.85,73.96 L223.87,77.12 L223.90,80.18 L223.92,83.15 L223.94,86.04 L223.97,88.84 L224.00,91.56 L224.03,94.21 L224.06,96.78 L224.09,99.28 L224.13,101.71 L224.17,104.08 L224.21,106.38 L224.25,108.63 L224.29,110.81 L224.33,112.94 L224.38,115.02 L224.43,117.04 L224.47,119.02 L224.53,120.94 L224.58,122.82 L224.63,124.66 L224.69,126.45 L224.75,128.20 L224.81,129.91 L224.87,131.58 L224.93,133.21 L224.99,134.81 L225.06,136.37 L225.13,137.89 L225.20,139.39 L225.27,140.85 L225.34,142.28 L225.42,143.68 L225.50,145.06 L225.57,146.40 L225.65,147.72 L225.74,149.01 L225.82,150.27 L225.90,151.51 L225.99,152.73 L226.08,153.92 L226.17,155.09 L226.26,156.24 L226.36,157.36 L226.45,158.47 L226.55,159.55 L226.65,160.62 L226.75,161.67 L226.95,163.64 L227.35,167.22 L227.75,170.41 L228.15,173.27 L228.55,175.87 L228.95,178.24 L229.35,180.42 L229.75,182.43 L230.15,184.30 L230.55,186.05 L230.95,187.68 L231.35,189.21 L231.75,190.65 L232.15,192.01 L232.55,193.30 L232.95,194.53 L233.35,195.69 L233.75,196.80 L234.15,197.85 L234.55,198.86 L234.95,199.83 L235.35,200.76 L235.75,201.65 L236.15,202.50 L236.55,203.33 L236.95,204.12 L237.35,204.88 L237.75,205.61 L238.15,206.32 L238.55,207.02 L238.95,207.71 L239.35,208.40 L239.75,209.07 L240.15,209.70 L240.55,210.29 L240.95,210.86 L241.35,211.41 L241.75,211.93 L242.15,212.43 L242.55,212.90 L242.95,213.35 L243.35,213.79 L243.75,214.20 L244.15,214.59 L244.55,214.97 L244.95,215.33 L245.35,215.67 L245.75,216.01 L246.15,216.34 L246.55,216.66 L246.95,216.98 L247.35,217.30 L247.75,217.62 L248.15,217.95 L248.55,218.28 L248.95,218.61 L249.35,218.94 L249.75,219.28 L250.15,219.63 L250.55,219.97 L250.95,220.31 L251.35,220.65 L251.75,220.97 L252.15,221.30 L252.55,221.62 L252.95,221.94 L253.35,222.25 L253.75,222.56 L254.15,222.87 L254.55,223.18 L254.95,223.48 L255.35,223.78 L255.75,224.07 L256.15,224.36 L256.55,224.65 L256.95,224.94 L257.35,225.22 L257.75,225.50 L258.15,225.78 L258.55,226.06 L258.95,226.33 L259.35,226.60 L259.75,226.86 L260.15,227.13 L260.55,227.39 L260.95,227.65 L261.35,227.90 L261.35,227.90 L261.85,228.45 L262.35,228.97 L262.85,229.46 L263.35,229.92 L263.85,230.33 L264.35,230.70 L264.85,231.02 L265.35,231.33 L265.85,231.61 L266.35,231.87 L266.85,232.11 L267.35,232.33 L267.50,232.39 M267.50,232.39 L267.85,232.54 L268.35,232.72 L268.85,232.89 L269.35,233.05 L269.85,233.21 L270.35,233.36 L270.85,233.50 L271.35,233.64 L271.85,233.77 L272.35,233.90 L272.85,234.02 L273.35,234.14 L273.85,234.26 L274.35,234.37 L274.85,234.47 L275.35,234.57 L275.85,234.67 L276.35,234.76 L276.85,234.86 L277.35,234.94 L277.85,235.03 L278.35,235.11 L278.85,235.19 L279.35,235.27 L279.85,235.34 L280.35,235.41 L280.85,235.48 L281.35,235.55 L281.85,235.61 L282.35,235.67 L282.85,235.74 L283.35,235.80 L283.85,235.86 L284.35,235.92 L284.85,235.98 L285.35,236.04 L285.85,236.11 L286.35,236.17 L286.85,236.23 L287.35,236.30 L287.85,236.36 L288.35,236.43 L288.85,236.49 L289.35,236.56 L289.85,236.63 L290.35,236.69 L290.85,236.76 L291.35,236.83 L291.85,236.89 L292.35,236.96 L292.85,237.02 L293.35,237.09 L293.85,237.15 L294.35,237.21 L294.85,237.27 L295.35,237.32 L295.85,237.38 L296.35,237.43 L296.85,237.48 L297.35,237.53 L297.85,237.57 L298.35,237.62 L298.85,237.65 L299.35,237.69 L299.85,237.72 L300.35,237.75 L300.85,237.78 L301.35,237.81 L301.85,237.84 L302.35,237.86 L302.85,237.89 L303.35,237.91 L303.85,237.94 L304.35,237.96 L304.85,237.98 L305.35,238.00 L305.85,238.02 L306.35,238.04 L306.85,238.06 L307.35,238.08 L307.85,238.10 L308.35,238.12 L308.85,238.14 L309.35,238.16 L309.85,238.18 L310.35,238.20 L310.85,238.22 L311.35,238.24 L311.85,238.26 L312.35,238.28 L312.85,238.30 L313.35,238.32 L313.85,238.34 L314.35,238.36 L314.85,238.38 L315.35,238.41 L315.85,238.43 L316.35,238.45 L316.85,238.47 L317.35,238.49 L317.85,238.51 L318.35,238.53 L318.85,238.56 L319.35,238.58 L319.85,238.60 L320.35,238.62 L320.85,238.64 L321.35,238.66 L321.85,238.69 L322.35,238.71 L322.50,238.71 M322.50,238.71 L322.85,238.73 L323.35,238.75 L323.85,238.77 L324.35,238.79 L324.85,238.81 L325.35,238.84 L325.85,238.86 L326.35,238.88 L326.85,238.90 L327.35,238.92 L327.85,238.94 L328.35,238.96 L328.85,238.99 L329.35,239.01 L329.85,239.03 L330.35,239.05 L330.85,239.07 L331.35,239.09 L331.85,239.11 L332.35,239.13 L332.85,239.15 L333.35,239.17 L333.85,239.20 L334.35,239.22 L334.85,239.24 L335.35,239.26 L335.85,239.28 L336.35,239.30 L336.85,239.32 L337.35,239.34 L337.85,239.36 L338.35,239.38 L338.85,239.40 L339.35,239.42 L339.85,239.44 L340.35,239.46 L340.85,239.48 L341.35,239.50 L341.85,239.52 L342.35,239.54 L342.85,239.56 L343.35,239.58 L343.85,239.60 L344.35,239.62 L344.85,239.64 L345.35,239.65 L345.85,239.67 L346.35,239.69 L346.85,239.71 L347.35,239.73 L347.85,239.75 L348.35,239.77 L348.85,239.78 L349.35,239.80 L349.85,239.82 L350.35,239.84 L350.85,239.86 L351.35,239.87 L351.85,239.89 L352.35,239.91 L352.85,239.93 L353.35,239.94 L353.85,239.96 L354.35,239.98 L354.85,239.99 L355.35,240.01 L355.85,240.03 L356.35,240.04 L356.85,240.06 L357.35,240.08 L357.85,240.09 L358.35,240.11 L358.85,240.12 L359.35,240.14 L359.85,240.16 L360.35,240.17 L360.85,240.19 L361.35,240.20 L361.85,240.21 L362.35,240.23 L362.85,240.24 L363.35,240.26 L363.85,240.27 L364.35,240.28 L364.85,240.30 L365.35,240.31 L365.85,240.32 L366.35,240.33 L366.85,240.35 L367.35,240.36 L367.85,240.37 L368.35,240.38 L368.85,240.40 L369.35,240.41 L369.85,240.42 L370.35,240.43 L370.85,240.45 L371.35,240.46 L371.85,240.47 L372.35,240.48 L372.85,240.49 L373.35,240.51 L373.85,240.52 L374.35,240.53 L374.85,240.54 L375.35,240.55 L375.85,240.56 L376.35,240.58 L376.85,240.59 L377.20,240.60 M377.20,240.60 L377.35,240.60 L377.85,240.61 L378.35,240.62 L378.85,240.63 L379.35,240.64 L379.85,240.66 L380.35,240.67 L380.85,240.68 L381.35,240.69 L381.85,240.70 L382.35,240.71 L382.85,240.72 L383.35,240.73 L383.85,240.74 L384.35,240.76 L384.85,240.77 L385.35,240.78 L385.85,240.79 L386.35,240.80 L386.85,240.81 L387.35,240.82 L387.85,240.83 L388.35,240.84 L388.85,240.85 L389.35,240.86 L389.85,240.87 L390.35,240.88 L390.85,240.89 L391.35,240.90 L391.85,240.91 L392.35,240.92 L392.85,240.93 L393.35,240.94 L393.85,240.95 L394.35,240.96 L394.85,240.97 L395.35,240.98 L395.85,240.99 L396.35,241.00 L396.85,241.01 L397.35,241.02 L397.85,241.03 L398.35,241.04 L398.85,241.05 L399.35,241.06 L399.85,241.06 L400.35,241.07 L400.85,241.08 L401.35,241.09 L401.85,241.10 L402.35,241.11 L402.85,241.12 L403.35,241.13 L403.85,241.14 L404.35,241.14 L404.85,241.15 L405.35,241.16 L405.85,241.17 L406.35,241.18 L406.85,241.19 L407.35,241.20 L407.85,241.20 L408.35,241.21 L408.85,241.22 L409.35,241.23 L409.85,241.24 L410.35,241.24 L410.85,241.25 L411.35,241.26 L411.85,241.27 L412.35,241.28 L412.85,241.28 L413.35,241.29 L413.85,241.30 L414.35,241.31 L414.85,241.31 L415.35,241.32 L415.85,241.33 L416.35,241.33 L416.85,241.34 L417.35,241.34 L417.85,241.35" fill="none" stroke="#00f" stroke-width="1.6" stroke-dasharray="1.6 2.85" stroke-linejoin="round"/>
<g stroke="#777" stroke-width="0.65" fill="none">
<line x1="102.98" y1="244.9" x2="102.98" y2="242.0"/>
<line x1="102.98" y1="7.9" x2="102.98" y2="10.8"/>
<line x1="207.94" y1="244.9" x2="207.94" y2="242.0"/>
<line x1="207.94" y1="7.9" x2="207.94" y2="10.8"/>
<line x1="312.89" y1="244.9" x2="312.89" y2="242.0"/>
<line x1="312.89" y1="7.9" x2="312.89" y2="10.8"/>
<line x1="50.5" y1="197.50" x2="53.4" y2="197.50"/>
<line x1="417.85" y1="197.50" x2="414.95000000000005" y2="197.50"/>
<line x1="50.5" y1="150.10" x2="53.4" y2="150.10"/>
<line x1="417.85" y1="150.10" x2="414.95000000000005" y2="150.10"/>
<line x1="50.5" y1="102.70" x2="53.4" y2="102.70"/>
<line x1="417.85" y1="102.70" x2="414.95000000000005" y2="102.70"/>
<line x1="50.5" y1="55.30" x2="53.4" y2="55.30"/>
<line x1="417.85" y1="55.30" x2="414.95000000000005" y2="55.30"/>
</g>
<rect x="50.5" y="7.9" width="367.35" height="237.00" fill="none" stroke="#000" stroke-opacity="0.85" stroke-width="1"/>
<line x1="345.2" y1="57.2" x2="382.8" y2="57.2" stroke="#000" stroke-width="1.5"/>
<line x1="345.2" y1="75.5" x2="382.8" y2="75.5" stroke="#f00" stroke-width="1.5" stroke-dasharray="11.2 3.7 1.6 3.8"/>
<line x1="344.8" y1="93.4" x2="383.2" y2="93.4" stroke="#00f" stroke-width="1.6" stroke-dasharray="1.6 2.98"/>
<g transform="translate(332.75,62.10) rotate(0.05) scale(1.0,1.03)"><text x="-24.06" y="0">x=0</text></g>
<g transform="translate(332.75,80.30) rotate(0.05) scale(1.0,1.03)"><text x="-32.63" y="0">x=+</text><path transform="translate(-8.16,0) scale(0.01467)" d="M359,0 L271,0 L271,-490 L101,-490 L101,-550 C190,-554 262,-590 293,-688 L359,-688 Z" fill="#000" stroke="#000" stroke-width="16"/></g>
<g transform="translate(332.75,98.30) rotate(0.05) scale(1.0,1.03)"><text x="-28.95" y="0">x=-</text><path transform="translate(-8.16,0) scale(0.01467)" d="M359,0 L271,0 L271,-490 L101,-490 L101,-550 C190,-554 262,-590 293,-688 L359,-688 Z" fill="#000" stroke="#000" stroke-width="16"/></g>
<text transform="translate(354.8,34.4) rotate(0.05)">K</text>
<text transform="translate(357.8,24.65) rotate(0.05)" style="font-size:11.7px">-</text>
<text transform="translate(364.8,28.45) rotate(0.05)" style="font-size:11.9px">0</text>
<text transform="translate(371.1,34.4) rotate(0.05) scale(0.955,1)" class="sym" style="font-size:14.45px">&#923;</text>
<g transform="translate(105.18,264.45) rotate(0.05) scale(1.0,1.05)"><path transform="translate(-16.32,0) scale(0.01467)" d="M359,0 L271,0 L271,-490 L101,-490 L101,-550 C190,-554 262,-590 293,-688 L359,-688 Z" fill="#000" stroke="#000" stroke-width="16"/><text x="-8.16" y="0">660</text></g>
<g transform="translate(209.74,264.45) rotate(0.05) scale(1.0,1.05)"><path transform="translate(-16.32,0) scale(0.01467)" d="M359,0 L271,0 L271,-490 L101,-490 L101,-550 C190,-554 262,-590 293,-688 L359,-688 Z" fill="#000" stroke="#000" stroke-width="16"/><text x="-8.16" y="0">680</text></g>
<g transform="translate(315.04,264.45) rotate(0.05) scale(1.0,1.05)"><path transform="translate(-16.32,0) scale(0.01467)" d="M359,0 L271,0 L271,-490 L101,-490 L101,-550 C190,-554 262,-590 293,-688 L359,-688 Z" fill="#000" stroke="#000" stroke-width="16"/><text x="-8.16" y="0">700</text></g>
<g transform="translate(420.20,264.45) rotate(0.05) scale(1.0,1.05)"><path transform="translate(-16.32,0) scale(0.01467)" d="M359,0 L271,0 L271,-490 L101,-490 L101,-550 C190,-554 262,-590 293,-688 L359,-688 Z" fill="#000" stroke="#000" stroke-width="16"/><text x="-8.16" y="0">720</text></g>
<g transform="translate(41.70,250.05) rotate(0.05) scale(1.0,1.05)"><text x="-8.16" y="0">0</text></g>
<g transform="translate(41.70,202.65) rotate(0.05) scale(1.0,1.05)"><text x="-20.39" y="0">0.2</text></g>
<g transform="translate(41.70,155.25) rotate(0.05) scale(1.0,1.05)"><text x="-20.39" y="0">0.4</text></g>
<g transform="translate(41.70,107.85) rotate(0.05) scale(1.0,1.05)"><text x="-20.39" y="0">0.6</text></g>
<g transform="translate(41.70,60.45) rotate(0.05) scale(1.0,1.05)"><text x="-20.39" y="0">0.8</text></g>
<g transform="translate(41.70,13.05) rotate(0.05) scale(1.0,1.05)"><path transform="translate(-8.16,0) scale(0.01467)" d="M359,0 L271,0 L271,-490 L101,-490 L101,-550 C190,-554 262,-590 293,-688 L359,-688 Z" fill="#000" stroke="#000" stroke-width="16"/></g>
<text transform="translate(199.0,284.65) rotate(0.05)">M</text>
<text transform="translate(211.45,289.25) rotate(0.05)" style="font-size:12px">inv</text>
<text transform="translate(230.2,284.65) rotate(0.05)" textLength="38.95" lengthAdjust="spacing">[MeV]</text>
<g transform="translate(13.25,200.62) rotate(-89.96)">
<text transform="translate(0.1,0) scale(0.84,1)">d</text>
<text transform="translate(7.05,0) scale(0.92,1)" class="sym" style="font-size:15px">&#915;</text>
<text x="15.76" y="3.55" style="font-size:11.73px">K</text>
<text x="18.6" y="-4.4" style="font-size:9.4px">-</text>
<text x="23.45" y="-2.1" style="font-size:9.4px">0</text>
<text x="29.5" y="3.55" class="sym" style="font-size:11.3px">&#923;</text>
<text x="38.1" y="0">/</text>
<text transform="translate(42.8,0) scale(0.84,1)">d</text>
<text x="49.2" y="0">M</text>
<text x="61.54" y="3.55" style="font-size:11.73px">inv</text>
<text x="80.82" y="0" textLength="64.0" lengthAdjust="spacing">[arb. units</text>
<text x="146.15" y="0">]</text>
</g>
</svg>
</body></html>
